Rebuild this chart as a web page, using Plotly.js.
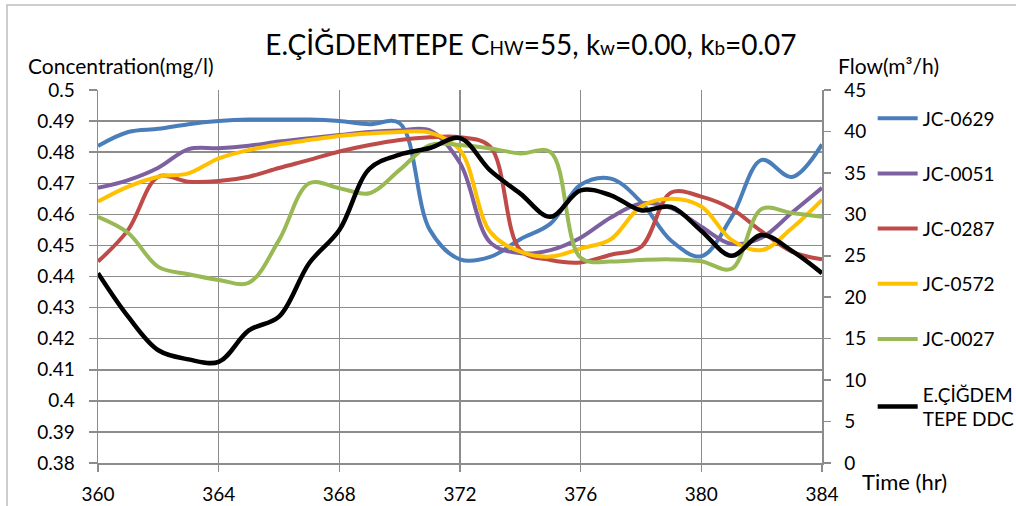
<!DOCTYPE html>
<html><head><meta charset="utf-8">
<script src="https://cdn.plot.ly/plotly-3.0.1.min.js"></script>
<style>body{margin:0;background:#fff}#c{width:1016px;height:506px}</style>
</head><body><div id="c"></div>
<script>
const hours = [360,361,362,363,364,365,366,367,368,369,370,371,372,373,374,375,376,377,378,379,380,381,382,383,384];
const jc0629 = [0.482,0.4865,0.4875,0.489,0.490,0.4905,0.4905,0.4905,0.490,0.489,0.4893,0.455,0.4455,0.4463,0.452,0.457,0.4695,0.4715,0.464,0.4515,0.4465,0.459,0.4775,0.472,0.4825];
const jc0051 = [0.4685,0.471,0.475,0.481,0.4813,0.4821,0.4834,0.4845,0.4855,0.4865,0.487,0.487,0.4765,0.451,0.4475,0.4485,0.4525,0.459,0.4635,0.462,0.456,0.4505,0.4525,0.4605,0.4685];
const jc0287 = [0.4448,0.455,0.4721,0.4705,0.4707,0.4721,0.4749,0.4775,0.4802,0.4823,0.4839,0.4848,0.4848,0.4818,0.4485,0.4453,0.4445,0.447,0.4495,0.467,0.4657,0.4618,0.4545,0.448,0.4455];
const jc0572 = [0.4641,0.4689,0.4721,0.4732,0.478,0.4807,0.4825,0.4839,0.4852,0.486,0.4865,0.4863,0.4807,0.4544,0.448,0.4464,0.449,0.452,0.4625,0.465,0.4625,0.4518,0.4485,0.4555,0.4646];
const jc0027 = [0.4592,0.454,0.4431,0.4407,0.4389,0.438,0.4517,0.470,0.4684,0.4668,0.4743,0.4823,0.4823,0.4812,0.4796,0.480,0.446,0.4448,0.4453,0.4455,0.4449,0.4425,0.4617,0.4604,0.4592];
const ddcFlow = [22.9,17.65,13.6,12.5,12.2,16.0,17.65,24.1,28.1,35.5,37.2,38.0,39.2,35.3,32.5,29.7,32.9,32.3,30.5,30.9,28.0,25.0,27.5,25.6,22.9];

const seriesNames = ['JC-0629','JC-0051','JC-0287','JC-0572','JC-0027'];
const seriesColors = ['#4A7EBB','#7D60A0','#BE4B48','#FFC000','#98B954'];
const seriesData = [jc0629,jc0051,jc0287,jc0572,jc0027];
const flowName = 'E.ÇİĞDEM<br>TEPE DDC';

const concTicks = [0.38,0.39,0.4,0.41,0.42,0.43,0.44,0.45,0.46,0.47,0.48,0.49,0.5];
const concTickText = ['0.38','0.39','0.4','0.41','0.42','0.43','0.44','0.45','0.46','0.47','0.48','0.49','0.5'];
const flowTicks = [0,5,10,15,20,25,30,35,40,45];
const timeTicks = [360,364,368,372,376,380,384];

const FONT = 'Lato, "Open Sans", sans-serif';
const traces = seriesData.map((d,i)=>({
  x: hours, y: d, name: seriesNames[i], type:'scatter', mode:'lines',
  line:{color:seriesColors[i], width:4, shape:'spline', smoothing:1},
  legendgroup:'g'+i
}));
traces.push({x:hours, y:ddcFlow, name:flowName, yaxis:'y2', type:'scatter', mode:'lines',
  line:{color:'#000000', width:4.5, shape:'spline', smoothing:1}, legendgroup:'g5'});

const grid = '#8c8c8c';
const layout = {
  width:1016, height:506,
  margin:{l:98, r:194, t:90, b:43, autoexpand:false},
  paper_bgcolor:'#fff', plot_bgcolor:'#fff',
  font:{family:FONT, size:19, color:'#000'},
  showlegend:true,
  legend:{x:1.07, y:0.975, xanchor:'left', yanchor:'top', font:{size:19, family:FONT},
    tracegroupgap:27.5, itemwidth:40, bgcolor:'rgba(0,0,0,0)'},
  title:{text:'E.ÇİĞDEMTEPE C<span style="font-size:19px">HW</span>=55, k<span style="font-size:19px">w</span>=0.00, k<span style="font-size:19px">b</span>=0.07',
    x:0.598, xref:'paper', y:0.91, yref:'container', xanchor:'center', yanchor:'middle', font:{size:28, family:FONT}},
  xaxis:{range:[360,384], tickvals:timeTicks, showgrid:true, gridcolor:grid, gridwidth:1.5,
    showline:true, linecolor:grid, linewidth:1.5, ticks:'outside', ticklen:7, tickcolor:grid, tickwidth:1.5,
    zeroline:false, ticklabelstandoff:7, tickfont:{size:19}},
  yaxis:{range:[0.38,0.5], tickvals:concTicks, ticktext:concTickText, showgrid:true, gridcolor:grid, gridwidth:1.5,
    showline:true, linecolor:grid, linewidth:1.5, ticks:'outside', ticklen:8, tickcolor:grid, tickwidth:1.5,
    zeroline:false, tickfont:{size:19}, ticklabelstandoff:10},
  yaxis2:{range:[0,45], tickvals:flowTicks, overlaying:'y', side:'right', showgrid:false,
    showline:true, linecolor:grid, linewidth:1.5, ticks:'outside', ticklen:7, tickcolor:grid, tickwidth:1.5,
    zeroline:false, tickfont:{size:19}, ticklabelstandoff:10},
  annotations:[
    {text:'Concentration(mg/l)', xref:'paper', yref:'paper', x:-0.099, y:1.066, xanchor:'left', yanchor:'middle', showarrow:false, font:{size:21}},
    {text:'Flow(m³/h)', xref:'paper', yref:'paper', x:1.019, y:1.066, xanchor:'left', yanchor:'middle', showarrow:false, font:{size:21}},
    {text:'Time (hr)', xref:'paper', yref:'paper', x:1.053, y:-0.05, xanchor:'left', yanchor:'middle', showarrow:false, font:{size:22}}
  ],
  shapes:[
    {type:'rect', xref:'paper', yref:'paper', x0:(7-98)/724, x1:1.5, y0:-0.3, y1:(463-5)/373, line:{color:'#bdbdbd', width:1.5}, fillcolor:'rgba(0,0,0,0)', layer:'below'}
  ]
};
Plotly.newPlot('c', traces, layout, {displayModeBar:false, staticPlot:true});
</script></body></html>
